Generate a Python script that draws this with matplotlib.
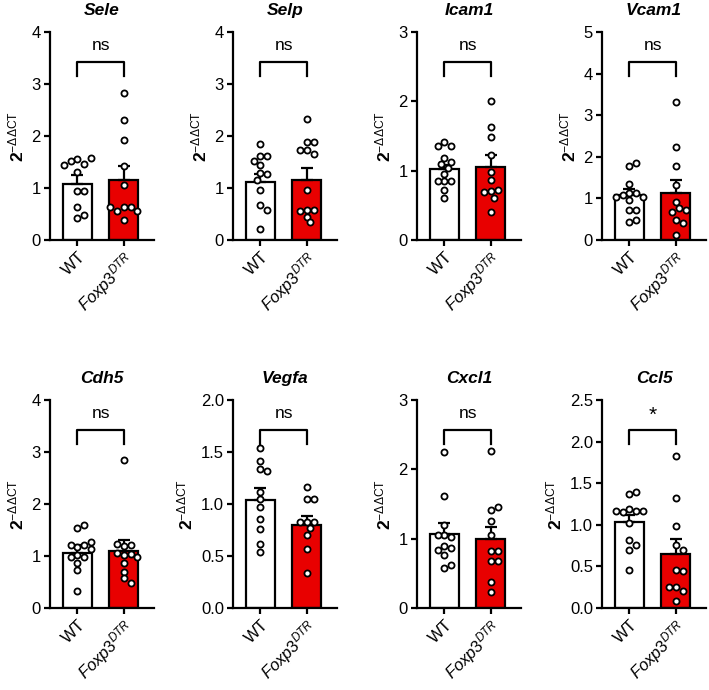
import numpy as np
import matplotlib
matplotlib.use('Agg')
import matplotlib.pyplot as plt

plt.rcParams['font.family'] = ['Liberation Sans', 'DejaVu Sans']
plt.rcParams['mathtext.fontset'] = 'custom'
plt.rcParams['mathtext.rm'] = 'Liberation Sans'
plt.rcParams['mathtext.it'] = 'Liberation Sans:italic'
plt.rcParams['mathtext.bf'] = 'Liberation Sans:bold'

genes = ['Sele', 'Selp', 'Icam1', 'Vcam1', 'Cdh5', 'Vegfa', 'Cxcl1', 'Ccl5']
groups = ['WT', r'$\mathit{Foxp3}^{\mathit{DTR}}$']
y_max = [4, 4, 3, 5, 4, 2.0, 3, 2.5]
y_step = [1, 1, 1, 1, 1, 0.5, 1, 0.5]
signif = ['ns', 'ns', 'ns', 'ns', 'ns', 'ns', 'ns', '*']

# bar heights (mean) and SEM
wt_mean = [1.08, 1.11, 1.02, 1.09, 1.06, 1.04, 1.07, 1.03]
wt_sem = [0.17, 0.16, 0.06, 0.13, 0.16, 0.11, 0.15, 0.09]
fox_mean = [1.15, 1.15, 1.05, 1.14, 1.09, 0.80, 0.99, 0.65]
fox_sem = [0.28, 0.24, 0.17, 0.31, 0.22, 0.08, 0.18, 0.18]

# individual animals
sele_wt = [1.56, 1.47, 1.52, 1.57, 1.45, 1.30, 0.95, 0.95, 0.63, 0.42, 0.48]
sele_fox = [2.82, 2.31, 1.92, 1.42, 1.05, 0.63, 0.63, 0.55, 0.55, 0.63, 0.39]
selp_wt = [1.85, 1.61, 1.61, 1.45, 1.52, 1.28, 1.26, 1.16, 0.97, 0.68, 0.58, 0.22]
selp_fox = [2.32, 1.88, 1.88, 1.74, 1.65, 1.74, 0.97, 0.58, 0.58, 0.45, 0.56, 0.34]
icam1_wt = [1.42, 1.35, 1.36, 1.18, 1.12, 1.10, 1.04, 0.95, 0.85, 0.85, 0.85, 0.72, 0.61]
icam1_fox = [2.00, 1.63, 1.48, 1.23, 0.98, 0.86, 0.70, 0.72, 0.69, 0.61, 0.41]
vcam1_wt = [1.78, 1.85, 1.35, 1.12, 1.14, 1.07, 1.04, 1.04, 0.96, 0.72, 0.72, 0.44, 0.48]
vcam1_fox = [3.31, 2.23, 1.78, 1.33, 0.92, 0.78, 0.68, 0.72, 0.48, 0.42, 0.12]
cdh5_wt = [1.54, 1.60, 1.17, 1.21, 1.21, 1.27, 1.14, 1.02, 0.98, 0.98, 0.86, 0.73, 0.32]
cdh5_fox = [2.84, 1.19, 1.22, 1.02, 1.03, 1.24, 1.05, 0.98, 0.86, 0.70, 0.57, 0.48]
vegfa_wt = [1.54, 1.41, 1.34, 1.32, 1.12, 1.05, 0.97, 0.86, 0.76, 0.62, 0.54]
vegfa_fox = [1.16, 1.05, 1.05, 0.83, 0.83, 0.83, 0.77, 0.70, 0.57, 0.34]
cxcl1_wt = [2.25, 1.61, 1.19, 1.06, 1.02, 1.06, 0.90, 0.87, 0.76, 0.83, 0.58, 0.62]
cxcl1_fox = [2.26, 1.42, 1.45, 1.26, 1.05, 0.82, 0.82, 0.68, 0.68, 0.37, 0.23]
ccl5_wt = [1.37, 1.40, 1.19, 1.16, 1.15, 1.16, 1.16, 1.02, 0.82, 0.76, 0.70, 0.46]
ccl5_fox = [1.83, 1.32, 0.99, 0.76, 0.70, 0.46, 0.45, 0.25, 0.21, 0.25, 0.09]

wt_points = [sele_wt, selp_wt, icam1_wt, vcam1_wt, cdh5_wt, vegfa_wt, cxcl1_wt, ccl5_wt]
fox_points = [sele_fox, selp_fox, icam1_fox, vcam1_fox, cdh5_fox, vegfa_fox, cxcl1_fox, ccl5_fox]

RED = '#e80000'


def swarm_x(ax, x0, vals, diam=6.8):
    # spread points sideways (in pixels) so they don't sit on top of each other
    pts = ax.transData.transform(np.column_stack([np.full(len(vals), x0), vals]))
    px_per_x = ax.transData.transform((1, 0))[0] - ax.transData.transform((0, 0))[0]
    placed = []
    xs = []
    step = diam * 0.5
    for px, py in pts:
        k = 0
        while True:
            cands = [0.0] if k == 0 else [k * step, -k * step]
            ok = None
            for off in cands:
                if all(np.hypot(px + off - qx, py - qy) >= diam * 0.95 for qx, qy in placed):
                    ok = off
                    break
            if ok is not None:
                break
            k += 1
        placed.append((px + ok, py))
        xs.append(x0 + ok / px_per_x)
    return xs


fig = plt.figure(figsize=(7.09, 6.90), dpi=100)
lefts = [50, 233, 417, 602]
row_bottoms = [240, 608]
ax_w, ax_h = 104, 208

for i, gene in enumerate(genes):
    r, c = divmod(i, 4)
    ax = fig.add_axes([lefts[c] / 709, 1 - row_bottoms[r] / 690, ax_w / 709, ax_h / 690])
    ym = y_max[i]
    ax.set_xlim(-0.59, 1.65)
    ax.set_ylim(0, ym)

    ax.bar([0], [wt_mean[i]], width=0.63, color='white', edgecolor='black', linewidth=1.6, zorder=1)
    ax.bar([1], [fox_mean[i]], width=0.63, color=RED, edgecolor='black', linewidth=1.6, zorder=1)
    ax.errorbar([0], [wt_mean[i]], yerr=[[0], [wt_sem[i]]], fmt='none', ecolor='black',
                elinewidth=1.6, capsize=4, capthick=1.6, zorder=2)
    ax.errorbar([1], [fox_mean[i]], yerr=[[0], [fox_sem[i]]], fmt='none', ecolor='black',
                elinewidth=1.6, capsize=4, capthick=1.6, zorder=2)

    for x0, vals in [(0, wt_points[i]), (1, fox_points[i])]:
        xs = swarm_x(ax, x0, vals)
        ax.plot(xs, vals, 'o', ms=4.4, mfc='white', mec='black', mew=1.3, zorder=3, clip_on=False)

    # significance bracket
    top, leg = 0.855 * ym, 0.79 * ym
    ax.plot([0, 0, 1, 1], [leg, top, top, leg], color='black', lw=1.6, clip_on=False)
    if signif[i] == '*':
        ax.text(0.5, 0.925 * ym, '*', ha='center', va='center', fontsize=15)
    else:
        ax.text(0.5, 0.935 * ym, signif[i], ha='center', va='center', fontsize=12.5)

    ticks = np.arange(0, ym + 1e-9, y_step[i])
    ax.set_yticks(ticks)
    if y_step[i] < 1:
        ax.set_yticklabels([f'{v:.1f}' for v in ticks])
    ax.set_xticks([0, 1])
    ax.set_xticklabels(groups, rotation=45, ha='right', rotation_mode='anchor')
    ax.tick_params(axis='both', labelsize=12, width=1.6, length=4.5, color='black', pad=2)

    for s in ['top', 'right']:
        ax.spines[s].set_visible(False)
    for s in ['left', 'bottom']:
        ax.spines[s].set_linewidth(1.6)

    ax.set_ylabel(r'$\mathbf{2}^{\mathrm{-ΔΔCT}}$', fontsize=12.5, labelpad=4)
    ax.set_title(gene, fontsize=12.5, fontweight='bold', fontstyle='italic', pad=12)

fig.savefig('out.png', dpi=100)
